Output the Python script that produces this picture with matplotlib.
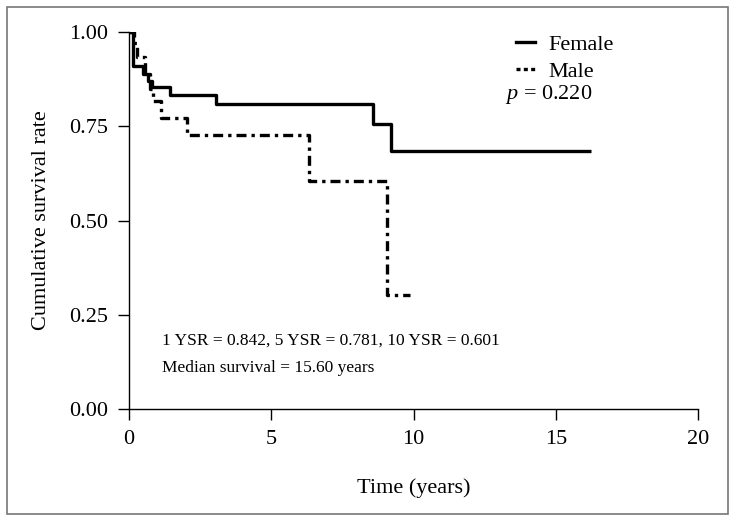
import matplotlib
matplotlib.use("Agg")
import matplotlib.pyplot as plt
from matplotlib.patches import Rectangle
from matplotlib.lines import Line2D

# Kaplan-Meier step data (time in years, survival)
female_t = [0.0, 0.13, 0.48, 0.68, 0.82, 1.44, 3.06, 8.56, 9.21, 16.25]
female_s = [1.0, 0.909, 0.890, 0.869, 0.855, 0.833, 0.809, 0.756, 0.685, 0.685]
male_t = [0.0, 0.18, 0.29, 0.55, 0.75, 0.86, 1.11, 2.03, 6.33, 9.06, 9.88]
male_s = [1.0, 0.970, 0.935, 0.890, 0.850, 0.818, 0.771, 0.727, 0.606, 0.302, 0.302]

x_ticks = [0, 5, 10, 15, 20]
y_ticks = [0.0, 0.25, 0.5, 0.75, 1.0]
y_ticklabels = ["0.00", "0.25", "0.50", "0.75", "1.00"]

plt.rcParams['font.family'] = ['Liberation Serif', 'DejaVu Serif']
plt.rcParams['mathtext.fontset'] = 'custom'
plt.rcParams['mathtext.it'] = 'Liberation Serif:italic'
plt.rcParams['mathtext.rm'] = 'Liberation Serif'

fig = plt.figure(figsize=(7.35, 5.21), dpi=100)
fig.patches.append(Rectangle((0.009, 0.013), 0.982, 0.974, transform=fig.transFigure,
                             fill=False, edgecolor='#777777', linewidth=1.2))
ax = fig.add_axes([0.1755, 0.215, 0.7742, 0.7235])

ax.step(female_t, female_s, where='post', color='black', linewidth=2.4, solid_capstyle='butt')
ax.step(male_t, male_s, where='post', color='black', linewidth=2.4,
        linestyle=(0, (3.0, 1.5, 1.0, 1.5)))

ax.set_xlim(0, 20)
ax.set_ylim(0, 1.0)
ax.set_xticks(x_ticks)
ax.set_yticks(y_ticks)
ax.set_yticklabels(y_ticklabels)
for s in ['top', 'right']:
    ax.spines[s].set_visible(False)
ax.spines['left'].set_linewidth(1.0)
ax.spines['bottom'].set_linewidth(1.0)
ax.tick_params(axis='both', direction='out', length=8, width=1.0, labelsize=16, pad=7)
ax.set_xlabel("Time (years)", fontsize=16, labelpad=21)
ax.set_ylabel("Cumulative survival rate", fontsize=16, labelpad=13)

handles = [Line2D([0], [0], color='black', linewidth=2.4),
           Line2D([0], [0], color='black', linewidth=2.4, linestyle=(0, (1.2, 1.0)))]
leg = ax.legend(handles, ["Female", "Male"], loc='upper left', bbox_to_anchor=(0.665, 1.018),
                frameon=False, fontsize=16, handlelength=0.85, handletextpad=0.6,
                labelspacing=0.3, borderaxespad=0)
ax.text(0.66, 0.833, r"$p$ = 0.220", transform=ax.transAxes, fontsize=16,
        va='center', ha='left')

ax.text(1.15, 0.18, "1 YSR = 0.842, 5 YSR = 0.781, 10 YSR = 0.601", fontsize=12.5,
        va='center', ha='left')
ax.text(1.15, 0.11, "Median survival = 15.60 years", fontsize=12.5, va='center', ha='left')

fig.savefig("out.png", dpi=100)
